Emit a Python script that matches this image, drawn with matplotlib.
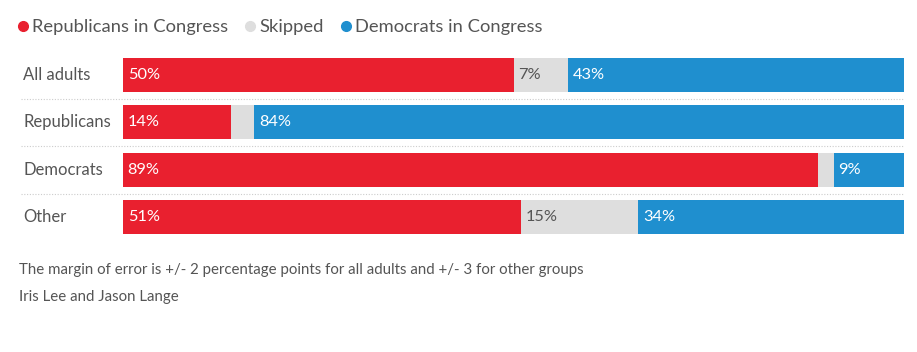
import matplotlib.pyplot as plt
from matplotlib.lines import Line2D

plt.rcParams['font.family'] = ['Lato', 'DejaVu Sans']

groups = ['All adults', 'Republicans', 'Democrats', 'Other']
rep_congress = [50, 14, 89, 51]
skipped = [7, 3, 2, 15]
dem_congress = [43, 84, 9, 34]
series_names = ['Republicans in Congress', 'Skipped', 'Democrats in Congress']

RED = '#e9202f'
GRAY = '#dedede'
BLUE = '#1f8fcf'
TXT = '#555555'

fig = plt.figure(figsize=(9.17, 3.52), dpi=100)
ax = fig.add_axes([123 / 917, 1 - 241 / 352, 781 / 917, 190 / 352])

y = list(range(len(groups)))
totals = [r + s + d for r, s, d in zip(rep_congress, skipped, dem_congress)]
series = [rep_congress, skipped, dem_congress]
colors = [RED, GRAY, BLUE]
label_colors = ['white', TXT, 'white']

left = [0] * len(groups)
for vals, col, lc in zip(series, colors, label_colors):
    widths = [v / t * 100 for v, t in zip(vals, totals)]
    ax.barh(y, widths, left=left, height=0.72, color=col, edgecolor='none')
    for i, (w, l, v) in enumerate(zip(widths, left, vals)):
        if w >= 5:
            ax.text(l + 0.6, i, f'{v}%', color=lc, va='center', ha='left', fontsize=11.8)
    left = [l + w for l, w in zip(left, widths)]

ax.set_xlim(0, 100)
ax.set_ylim(len(groups) - 0.5, -0.5)
ax.axis('off')

tr = ax.get_yaxis_transform()
for i, g in enumerate(groups):
    ax.text(-0.128, i, g, transform=tr, ha='left', va='center', fontsize=12, color=TXT)
for i in range(len(groups) - 1):
    ax.plot([-0.13, 1.0], [i + 0.5, i + 0.5], transform=tr, clip_on=False,
            color='#cccccc', lw=0.8, ls=(0, (1, 1.5)))

handles = [Line2D([], [], marker='o', ls='none', color=c, markersize=7) for c in colors]
fig.legend(handles, series_names, loc='upper left', bbox_to_anchor=(14 / 917, 1 - 19 / 352),
           ncol=3, frameon=False, handletextpad=0.0, columnspacing=0.7, handlelength=1.0,
           borderaxespad=0, borderpad=0, fontsize=13.2, labelcolor=TXT)

fig.text(19 / 917, 1 - 270 / 352, 'The margin of error is +/- 2 percentage points for all adults and +/- 3 for other groups',
         fontsize=10.8, color=TXT, va='center', ha='left')
fig.text(19 / 917, 1 - 297 / 352, 'Iris Lee and Jason Lange', fontsize=10.8, color=TXT, va='center', ha='left')

fig.savefig('out.png', dpi=100, facecolor='white')
